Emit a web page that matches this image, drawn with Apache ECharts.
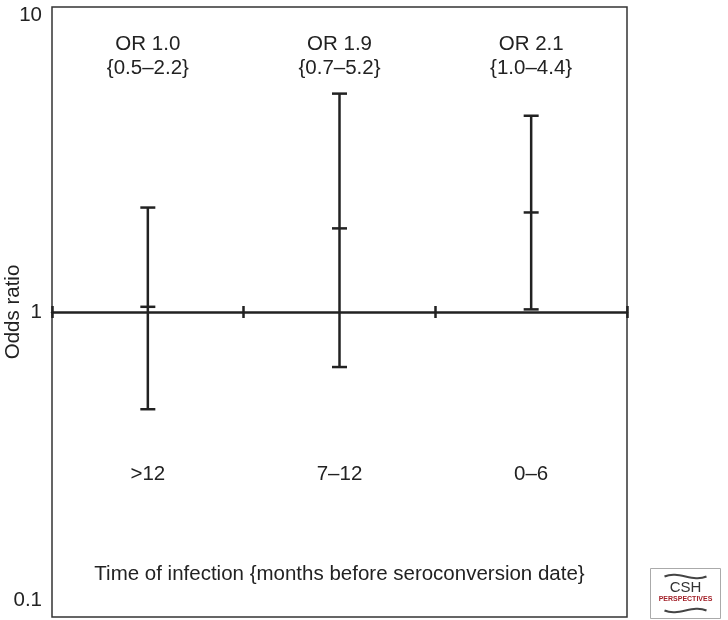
<!DOCTYPE html>
<html>
<head>
<meta charset="utf-8">
<script src="https://cdn.jsdelivr.net/npm/echarts/dist/echarts.min.js"></script>
<style>html,body{margin:0;padding:0;background:#fff}#c{width:728px;height:620px}</style>
</head>
<body>
<div id="c"></div>
<script>
const categories = ['>12', '7–12', '0–6'];
const oddsRatio = [1.04, 1.88, 2.12];
const ciLower = [0.48, 0.66, 1.02];
const ciUpper = [2.2, 5.2, 4.4];
const orLabels = ['OR 1.0', 'OR 1.9', 'OR 2.1'];
const ciLabels = ['{0.5–2.2}', '{0.7–5.2}', '{1.0–4.4}'];
const yTicks = [0.1, 1, 10];
const xTitle = 'Time of infection {months before seroconversion date}';
const yTitle = 'Odds ratio';

const FONT = 'Liberation Sans, Arial, Helvetica, sans-serif';
const INK = '#222';
const FS = 20.5;

const chart = echarts.init(document.getElementById('c'), null, {renderer: 'canvas'});
const data = categories.map((c, i) => [i, ciLower[i], ciUpper[i], oddsRatio[i]]);

chart.setOption({
  animation: false,
  grid: {left: 52, right: 101, top: 7, bottom: 3, show: true, borderColor: '#333', borderWidth: 1.5,
         containLabel: false, outerBoundsMode: 'none'},
  xAxis: [
    {
      type: 'category', data: categories, position: 'bottom', offset: -305,
      axisLine: {show: true, lineStyle: {color: INK, width: 2.5}},
      axisTick: {show: true, inside: false, length: 6, lineStyle: {color: INK, width: 2.5}},
      axisLabel: {show: true, margin: 152, fontFamily: FONT, fontSize: FS, color: INK},
      name: xTitle, nameLocation: 'middle', nameGap: 252, nameMoveOverlap: false,
      nameTextStyle: {fontFamily: FONT, fontSize: FS, color: INK},
      splitLine: {show: false}
    },
    {
      type: 'category', data: categories, position: 'bottom', offset: -305,
      axisLine: {show: false},
      axisTick: {show: true, inside: true, length: 6, lineStyle: {color: INK, width: 2.5}},
      axisLabel: {show: false},
      splitLine: {show: false}
    }
  ],
  yAxis: {
    type: 'log', logBase: 10, min: yTicks[0], max: yTicks[yTicks.length - 1],
    axisLine: {show: false}, axisTick: {show: false}, splitLine: {show: false},
    axisLabel: {
      fontFamily: FONT, fontSize: FS, color: INK, margin: 10,
      formatter: function (v) {
        if (v >= 9.9) return '{t|' + v + '}';
        if (v <= 0.11) return '{b|' + v + '}';
        return '{m|' + v + '}';
      },
      rich: {
        t: {fontFamily: FONT, fontSize: FS, color: INK, padding: [16, 0, 0, 0]},
        m: {fontFamily: FONT, fontSize: FS, color: INK},
        b: {fontFamily: FONT, fontSize: FS, color: INK, padding: [0, 0, 34, 0]}
      }
    },
    name: yTitle, nameLocation: 'middle', nameGap: 28, nameMoveOverlap: false,
    nameTextStyle: {fontFamily: FONT, fontSize: FS, color: INK}
  },
  series: [{
    type: 'custom',
    xAxisIndex: 0,
    data: data,
    renderItem: function (params, api) {
      const i = params.dataIndex;
      const x = api.value(0);
      const lo = api.coord([x, api.value(1)]);
      const hi = api.coord([x, api.value(2)]);
      const pt = api.coord([x, api.value(3)]);
      const top = api.coord([x, yTicks[2]]);
      const w = 7.5;
      const st = {stroke: INK, lineWidth: 2.5};
      return {
        type: 'group',
        children: [
          {type: 'line', shape: {x1: lo[0], y1: lo[1], x2: hi[0], y2: hi[1]}, style: st},
          {type: 'line', shape: {x1: lo[0] - w, y1: lo[1], x2: lo[0] + w, y2: lo[1]}, style: st},
          {type: 'line', shape: {x1: hi[0] - w, y1: hi[1], x2: hi[0] + w, y2: hi[1]}, style: st},
          {type: 'line', shape: {x1: pt[0] - w, y1: pt[1], x2: pt[0] + w, y2: pt[1]}, style: st},
          {type: 'text', x: top[0], y: top[1] + 49, style: {
            text: orLabels[i] + '\n' + ciLabels[i], fontFamily: FONT, fontSize: FS, fill: INK,
            align: 'center', verticalAlign: 'middle', lineHeight: 24
          }}
        ]
      };
    }
  }],
  graphic: [{
    type: 'group', left: 650, top: 568,
    children: [
      {type: 'rect', shape: {x: 0, y: 0, width: 70, height: 50}, style: {fill: '#fff', stroke: '#aaa', lineWidth: 1}},
      {type: 'text', x: 35, y: 19, style: {text: 'CSH', fontFamily: FONT, fontSize: 15, fill: '#333', align: 'center', verticalAlign: 'middle'}},
      {type: 'text', x: 35, y: 31, style: {text: 'PERSPECTIVES', fontFamily: FONT, fontSize: 7, fontWeight: 'bold', fill: '#a3222a', align: 'center', verticalAlign: 'middle'}},
      {type: 'bezierCurve', shape: {x1: 14, y1: 8, x2: 56, y2: 8, cpx1: 28, cpy1: 2, cpx2: 42, cpy2: 14}, style: {stroke: '#444', lineWidth: 2, fill: null}},
      {type: 'bezierCurve', shape: {x1: 14, y1: 42, x2: 56, y2: 42, cpx1: 28, cpy1: 48, cpx2: 42, cpy2: 36}, style: {stroke: '#444', lineWidth: 2, fill: null}}
    ]
  }]
});
</script>
</body>
</html>
